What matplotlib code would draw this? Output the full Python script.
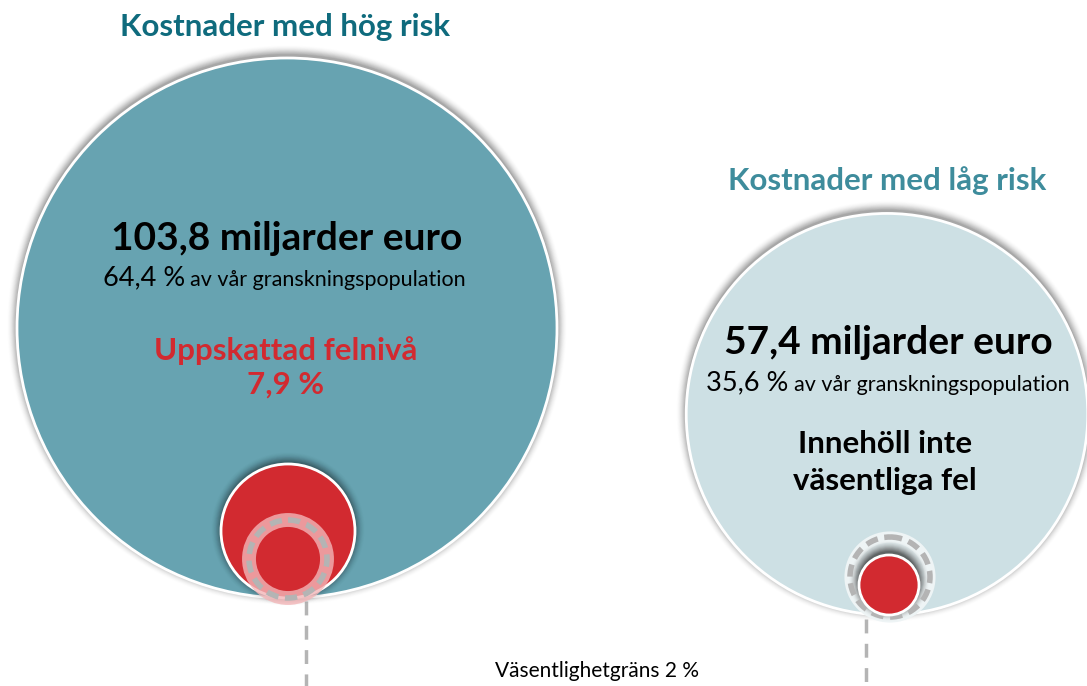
import numpy as np
import matplotlib.pyplot as plt
from matplotlib.patches import Circle

plt.rcParams['font.family'] = ['Lato', 'DejaVu Sans']

# data
groups = ['Kostnader med hög risk', 'Kostnader med låg risk']
amounts = [103.8, 57.4]          # miljarder euro
shares = [64.4, 35.6]            # % av granskningspopulation
error_rate = 7.9                 # uppskattad felnivå, %
materiality = 2                  # väsentlighetsgräns, %

TEAL = '#67a3b1'
LIGHT = '#cde0e4'
RED = '#d22a30'
GREY = '#b4b4b4'

fig = plt.figure(figsize=(10.87, 6.86), dpi=100)
ax = fig.add_axes([0, 0, 1, 1])
ax.set_xlim(0, 1087)
ax.set_ylim(686, 0)
ax.axis('off')

k = 270 / np.sqrt(amounts[0])
r_big = [k * np.sqrt(a) for a in amounts]
centers = [(287, 598 - r_big[0]), (887, 615 - r_big[1])]


def glow(cx, cy, r, width, color='#000000', amax=0.05, z=1):
    for i in range(12):
        rr = r + width * (i + 1) / 12
        ax.add_patch(Circle((cx, cy), rr, color=color, alpha=amax * (1 - i / 12), lw=0, zorder=z))


# big circles
for (cx, cy), r, col in zip(centers, r_big, [TEAL, LIGHT]):
    glow(cx, cy - 3, r, 10, amax=0.06)
    ax.add_patch(Circle((cx, cy), r, facecolor=col, edgecolor='white', lw=2, zorder=2))

# red circle in high-risk circle
r_red = 67
glow(288, 598 - r_red - 2, r_red, 10, amax=0.07, z=3)
ax.add_patch(Circle((288, 598 - r_red), r_red, facecolor=RED, edgecolor='white', lw=2, zorder=4))
r_mat = 39
ax.add_patch(Circle((288, 598 - r_mat), r_mat, fill=False, edgecolor='#f3b6b8', lw=10, alpha=0.8, zorder=5))
ax.add_patch(Circle((288, 598 - r_mat), r_mat, fill=False, edgecolor=GREY, lw=4, ls=(0, (2.2, 1.2)), zorder=6))

# low-risk materiality and red circle
r_mat2 = 40
ax.add_patch(Circle((890, 577), r_mat2, facecolor='#e3edef', edgecolor='#eef4f5', lw=8, zorder=3))
glow(889, 581, 29, 11, amax=0.12, z=4)
ax.add_patch(Circle((890, 577), r_mat2, fill=False, edgecolor=GREY, lw=4, ls=(0, (2.2, 1.2)), zorder=5))
ax.add_patch(Circle((889, 585), 30, facecolor=RED, edgecolor='white', lw=2, zorder=6))

# dashed guide lines
ax.plot([306, 306], [601, 686], color=GREY, lw=2.5, ls=(0, (4, 3)), zorder=1)
ax.plot([866, 866], [619, 686], color=GREY, lw=2.5, ls=(0, (4, 3)), zorder=1)

# titles
ax.text(285, 27, groups[0], ha='center', va='center', fontsize=22.5, fontweight='bold', color='#0f6b7d')
ax.text(887, 181, groups[1], ha='center', va='center', fontsize=22.5, fontweight='bold', color='#3e8c9c')


def fmt(v):
    return f'{v:.1f}'.replace('.', ',')


# high-risk texts
ax.text(287, 238, f'{fmt(amounts[0])} miljarder euro', ha='center', va='center',
        fontsize=28, fontweight='bold', color='black', zorder=10)
ax.text(185, 278, f'{fmt(shares[0])} %', ha='right', va='center', fontsize=19.5, zorder=10)
ax.text(190, 280, 'av vår granskningspopulation', ha='left', va='center', fontsize=15.5, zorder=10)
ax.text(286, 351, 'Uppskattad felnivå', ha='center', va='center', fontsize=22.5,
        fontweight='bold', color=RED, zorder=10)
ax.text(286, 385, f'{fmt(error_rate)} %', ha='center', va='center', fontsize=22.5,
        fontweight='bold', color=RED, zorder=10)

# low-risk texts
ax.text(888, 342, f'{fmt(amounts[1])} miljarder euro', ha='center', va='center',
        fontsize=28, fontweight='bold', color='black', zorder=10)
ax.text(788, 383, f'{fmt(shares[1])} %', ha='right', va='center', fontsize=19.5, zorder=10)
ax.text(794, 385, 'av vår granskningspopulation', ha='left', va='center', fontsize=15.5, zorder=10)
ax.text(885, 444, 'Innehöll inte', ha='center', va='center', fontsize=22.5, fontweight='bold', zorder=10)
ax.text(885, 481, 'väsentliga fel', ha='center', va='center', fontsize=22.5, fontweight='bold', zorder=10)

ax.text(597, 671, f'Väsentlighetgräns {materiality} %', ha='center', va='center', fontsize=15, zorder=10)

fig.savefig('out.png', dpi=100)
